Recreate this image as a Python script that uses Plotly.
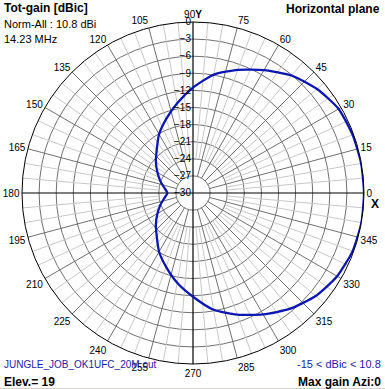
import plotly.graph_objects as go

# ---- data ----
AZIMUTH_DEG = [0, 10, 20, 30, 40, 50, 60, 70, 80, 90, 100, 110, 120, 130, 140, 150, 160, 170, 180,
               190, 200, 210, 220, 230, 240, 250, 260, 270, 280, 290, 300, 310, 320, 330, 340, 350, 360]
GAIN_DB = [0.0, -0.05, -0.2, -0.5, -1.6, -3.1, -5.1, -7.0, -8.9, -11.5, -14.0, -16.2, -18.1, -20.1,
           -21.5, -22.8, -23.9, -24.9, -25.5,
           -24.9, -23.9, -22.8, -21.5, -20.1, -18.1, -16.2, -14.0, -11.8, -9.2, -7.3, -5.4, -3.5,
           -1.9, -0.8, -0.2, 0.0, 0.0]

RADIAL_TICKS = [-30, -27, -24, -21, -18, -15, -12, -9, -6, -3, 0]
ANGLE_TICKS = list(range(0, 360, 15))
ANGLE_TEXT = [("90<b>Y</b>" if a == 90 else str(a)) for a in ANGLE_TICKS]

TITLE = "Tot-gain [dBic]"
NORM = "Norm-All : 10.8 dBi"
FREQ = "14.23 MHz"
PLANE = "Horizontal plane"
FILE = "JUNGLE_JOB_OK1UFC_20M.out"
ELEV = "Elev.= 19"
RANGE_TXT = "-15 < dBic < 10.8"
MAXG = "Max gain Azi:0"

W, H = 385, 389
L, R, T, B = 22, 21, 22, 25
PW = W - L - R
PH = H - T - B

def px(x):
    return (x - L) / PW

def py(y):
    return (H - B - y) / PH

fig = go.Figure()

# light 5-degree spokes
lt, lr = [], []
for a in range(0, 360, 5):
    if a % 15:
        lt += [a, a, None]
        lr += [-24, 0, None]
fig.add_trace(go.Scatterpolar(theta=lt, r=lr, mode="lines", line=dict(color="#c8c8c8", width=1),
                              hoverinfo="skip", showlegend=False))
# dark 15-degree spokes
dt, dr = [], []
for a in ANGLE_TICKS:
    if a % 90:
        dt += [a, a, None]
        dr += [-27, 0, None]
fig.add_trace(go.Scatterpolar(theta=dt, r=dr, mode="lines", line=dict(color="#707070", width=1),
                              hoverinfo="skip", showlegend=False))
# black main axes
fig.add_trace(go.Scatterpolar(theta=[0, 0, None, 90, 90, None, 180, 180, None, 270, 270],
                              r=[-30, 0, None, -30, 0, None, -30, 0, None, -30, 0],
                              mode="lines", line=dict(color="black", width=1.2),
                              hoverinfo="skip", showlegend=False))
# pattern
fig.add_trace(go.Scatterpolar(theta=AZIMUTH_DEG, r=GAIN_DB, mode="lines",
                              line=dict(color="#0c16b0", width=2.3, shape="spline", smoothing=0.6),
                              cliponaxis=False, showlegend=False))

fig.update_layout(
    width=W, height=H,
    margin=dict(l=L, r=R, t=T, b=B),
    paper_bgcolor="white",
    font=dict(family="Liberation Sans, Arial, sans-serif", color="black", size=10),
    polar=dict(
        bgcolor="white",
        radialaxis=dict(range=[-30, 0], tickvals=RADIAL_TICKS, angle=90, tickangle=90,
                        side="counterclockwise", showline=False, ticks="",
                        showgrid=True, gridcolor="#707070", gridwidth=1,
                        tickfont=dict(size=10, color="black")),
        angularaxis=dict(direction="counterclockwise", rotation=0, tickmode="array",
                         tickvals=ANGLE_TICKS, ticktext=ANGLE_TEXT, ticks="",
                         showgrid=False, showline=True, linecolor="black", linewidth=1,
                         tickfont=dict(size=10, color="black")),
    ),
)

def ann(text, x, y, xanchor, size, color="black"):
    fig.add_annotation(text=text, x=px(x), y=py(y), xref="paper", yref="paper",
                       xanchor=xanchor, yanchor="middle", showarrow=False,
                       font=dict(size=size, color=color))

ann("<b>" + TITLE + "</b>", 2, 8, "left", 12)
ann(NORM, 2, 24, "left", 11)
ann(FREQ, 2, 39, "left", 11)
ann("<b>" + PLANE + "</b>", 382, 9, "right", 12)
ann(FILE, 2, 364, "left", 10, "#1c1ca8")
ann("<b>" + ELEV + "</b>", 2, 382, "left", 12)
ann(RANGE_TXT, 383, 364, "right", 11, "#1c1ca8")
ann("<b>" + MAXG + "</b>", 383, 382, "right", 12)
ann("<b>X</b>", 369, 204, "left", 12)

fig.add_shape(type="line", xref="paper", yref="paper", x0=px(0), x1=px(W), y0=py(388.5), y1=py(388.5),
              line=dict(color="#d4d0c8", width=1))

fig.write_html("out.html", config={"displayModeBar": False},
               post_script="document.body.style.margin='0';document.body.style.overflow='hidden';")
